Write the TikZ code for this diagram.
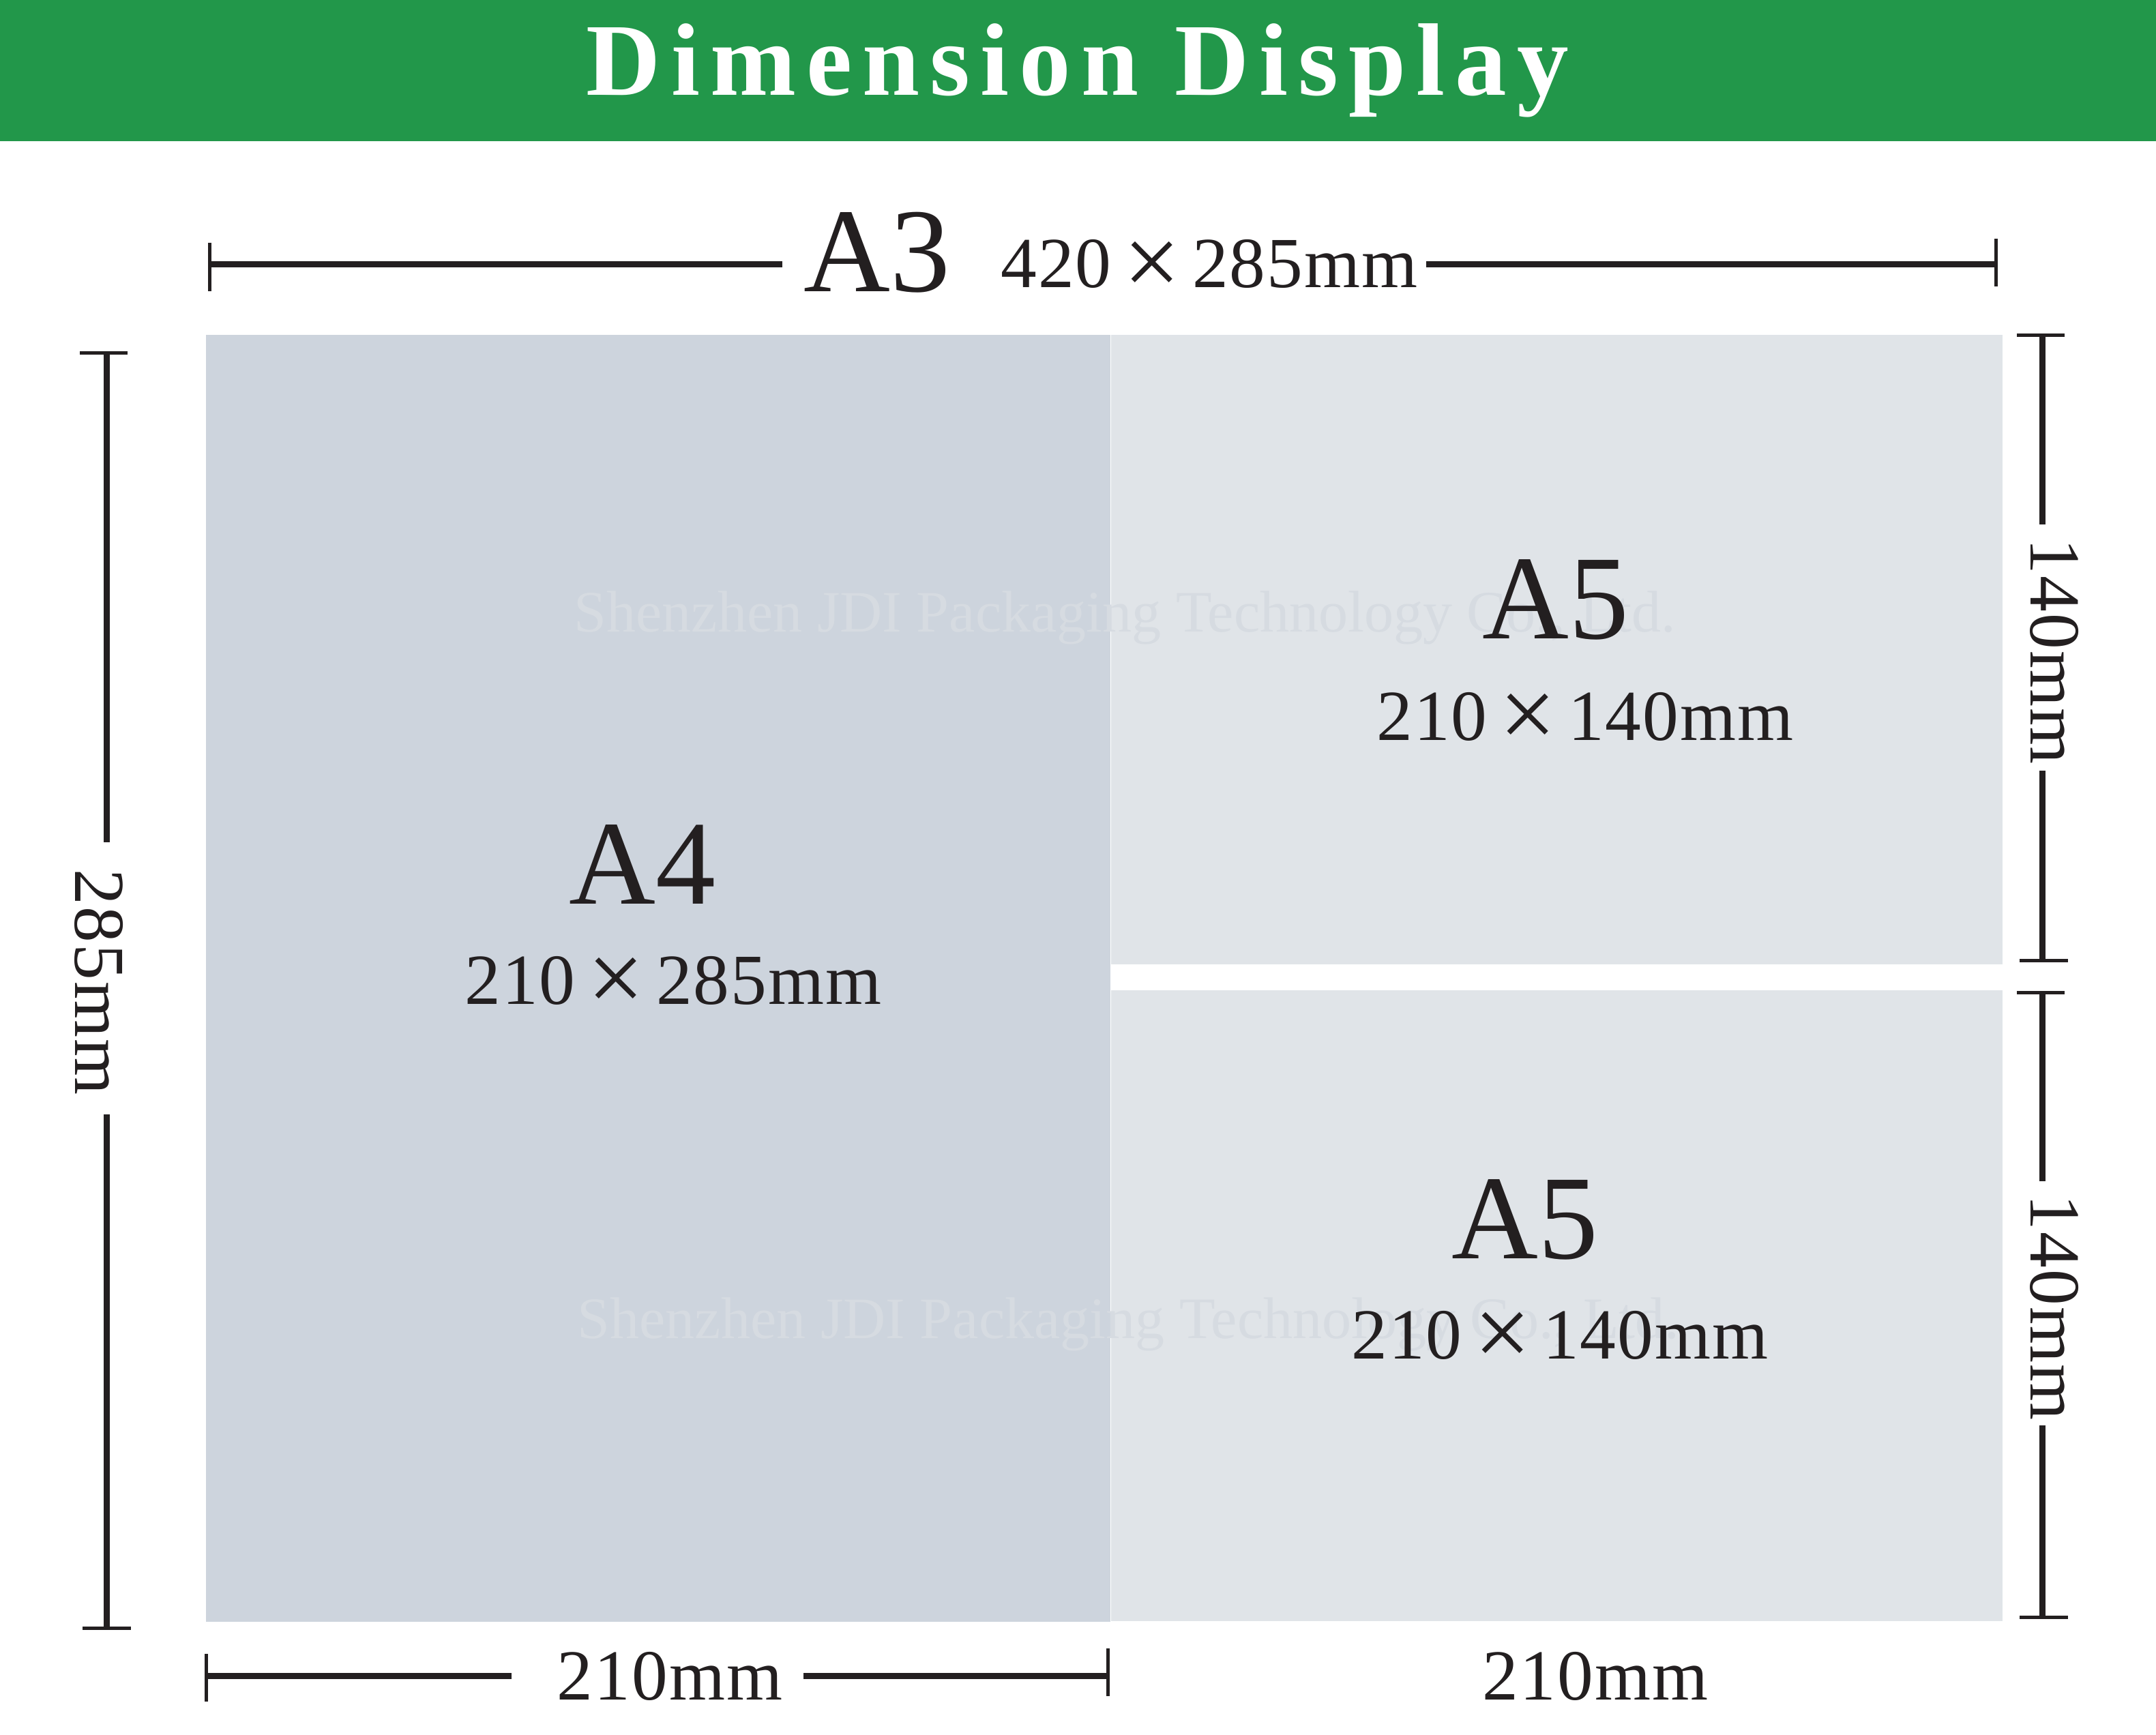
\documentclass[tikz,border=0pt]{standalone}
\usepackage{fontspec}
\setmainfont{Liberation Serif}
\usetikzlibrary{calc}
\definecolor{bargreen}{RGB}{34,151,74}
\definecolor{inkblack}{RGB}{35,31,32}
\definecolor{sheetfour}{RGB}{205,212,221}
\definecolor{sheetfive}{RGB}{224,228,232}
\definecolor{wmgray}{RGB}{214,219,225}
\newcommand{\bigx}{\,\raisebox{-0.11em}{\scalebox{1.4}{×}}\,}

\begin{document}
\begin{tikzpicture}[
		dimline/.style={line width=0.9mm, color=inkblack},
		dimtick/.style={line width=0.5mm, color=inkblack},
		biglabel/.style={anchor=base, inner sep=0pt, color=inkblack, font=\fontsize{50}{60}\selectfont},
		sizelabel/.style={anchor=base, inner sep=0pt, color=inkblack, font=\fontsize{30}{36}\selectfont\addfontfeature{LetterSpace=2}},
		wmtext/.style={anchor=base west, inner sep=0pt, color=wmgray, font=\fontsize{24.5}{30}\selectfont}
	]
		%%%%% START %%%%%
		\useasboundingbox (0,0) rectangle (31.61,-25.44);
		
		\fill[bargreen] (0,0) rectangle (31.61,-2.07);
		\node[anchor=base, inner sep=0pt, color=white, font=\bfseries\fontsize{43}{50}\selectfont\addfontfeature{LetterSpace=10}] (title) at (15.80,-1.40) {Dimension Display};
		
		% sheets
		\fill[sheetfour] (3.02,-4.91) rectangle (16.28,-23.78);
		\fill[sheetfive] (16.29,-4.91) rectangle (29.36,-14.14);
		\fill[sheetfive] (16.29,-14.52) rectangle (29.36,-23.77);
		
		\node[wmtext] (wmone) at (8.41,-9.27) {Shenzhen JDI Packaging Technology Co., Ltd.};
		\node[wmtext] (wmtwo) at (8.46,-19.62) {Shenzhen JDI Packaging Technology Co., Ltd.};
		
		\node[biglabel] (afour) at (9.42,-13.25) {A4};
		\node[sizelabel] (afoursize) at (9.87,-14.72) {210\bigx285mm};
		\node[biglabel] (afiveup) at (22.81,-9.37) {A5};
		\node[sizelabel] (afiveupsize) at (23.24,-10.85) {210\bigx140mm};
		\node[biglabel] (afivelow) at (22.36,-18.45) {A5};
		\node[sizelabel] (afivelowsize) at (22.87,-19.92) {210\bigx140mm};
		
		% top
		\node[biglabel] (athree) at (12.86,-4.28) {A3};
		\node[sizelabel] (athreesize) at (17.73,-4.22) {420\bigx285mm};
		\coordinate (topl) at (3.07,-3.88);
		\coordinate (topla) at (11.47,-3.88);
		\coordinate (topra) at (20.91,-3.88);
		\coordinate (topr) at (29.26,-3.88);
		\draw[dimline] (topl) -- (topla);
		\draw[dimline] (topra) -- (topr);
		\draw[dimtick] ($(topl)+(0,0.32)$) -- ($(topl)+(0,-0.39)$);
		\draw[dimtick] ($(topr)+(0,0.38)$) -- ($(topr)+(0,-0.32)$);
		
		% left
		\node[sizelabel, rotate=-90] (lefttext) at (1.10,-14.40) {285mm};
		\coordinate (lefttop) at (1.56,-5.18);
		\coordinate (lefttopa) at (1.56,-12.35);
		\coordinate (leftbota) at (1.56,-16.34);
		\coordinate (leftbot) at (1.56,-23.87);
		\draw[dimline] (lefttop) -- (lefttopa);
		\draw[dimline] (leftbota) -- (leftbot);
		\draw[dimtick] ($(lefttop)+(-0.39,0)$) -- ($(lefttop)+(0.31,0)$);
		\draw[dimtick] ($(leftbot)+(-0.35,0)$) -- ($(leftbot)+(0.36,0)$);
		
		% right
		\node[sizelabel, rotate=-90] (righttextup) at (29.77,-9.55) {140mm};
		\node[sizelabel, rotate=-90] (righttextlow) at (29.77,-19.17) {140mm};
		\coordinate (rone) at (29.94,-4.92);
		\coordinate (rtwo) at (29.94,-7.69);
		\coordinate (rthree) at (29.94,-11.30);
		\coordinate (rfour) at (29.94,-14.08);
		\coordinate (rfive) at (29.94,-14.55);
		\coordinate (rsix) at (29.94,-17.32);
		\coordinate (rseven) at (29.94,-20.90);
		\coordinate (reight) at (29.94,-23.71);
		\draw[dimline] (rone) -- (rtwo);
		\draw[dimline] (rthree) -- (rfour);
		\draw[dimline] (rfive) -- (rsix);
		\draw[dimline] (rseven) -- (reight);
		\foreach \p in {rone,rfive}
			\draw[dimtick] ($(\p)+(-0.37,0)$) -- ($(\p)+(0.33,0)$);
		\foreach \p in {rfour,reight}
			\draw[dimtick] ($(\p)+(-0.33,0)$) -- ($(\p)+(0.38,0)$);
		
		% bottom
		\node[sizelabel] (bottextl) at (9.82,-24.92) {210mm};
		\node[sizelabel] (bottextr) at (23.39,-24.92) {210mm};
		\coordinate (botl) at (3.02,-24.57);
		\coordinate (botla) at (7.50,-24.57);
		\coordinate (botra) at (11.78,-24.57);
		\coordinate (botr) at (16.24,-24.57);
		\draw[dimline] (botl) -- (botla);
		\draw[dimline] (botra) -- (botr);
		\draw[dimtick] ($(botl)+(0,0.32)$) -- ($(botl)+(0,-0.38)$);
		\draw[dimtick] ($(botr)+(0,0.40)$) -- ($(botr)+(0,-0.30)$);
		
		%%%%% END %%%%%
	\end{tikzpicture}
\end{document}
